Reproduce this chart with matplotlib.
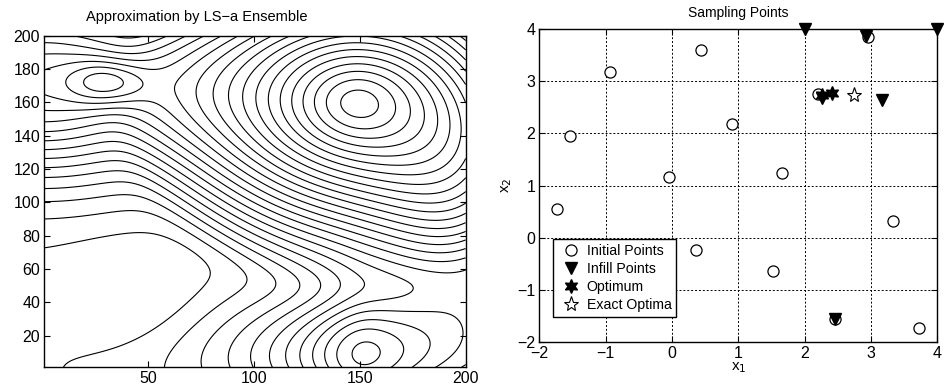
import numpy as np
import matplotlib
matplotlib.use('Agg')
import matplotlib.pyplot as plt

plt.rcParams['font.family'] = ['Liberation Sans', 'DejaVu Sans']

# left panel: LS-a ensemble surface on a 200 x 200 grid, described by a few bumps
grid_n = 200
bump_cx = [0, 31, 150, 148, 205, 45]
bump_cy = [172, 172, 8, 160, 85, 40]
bump_sx = [55, 13, 45, 100, 32, 25]
bump_sy = [40, 10, 28, 100, 60, 25]
bump_amp = [12.5, 4.0, 11.0, 25.0, 7.5, -1.2]
bump_kind = ['gauss', 'gauss', 'ridge', 'mesa', 'gauss', 'gauss']
level_start, level_step, n_levels = 0.5, 1.0, 30

# right panel: sampling points
initial_x = [0.44, -0.93, -1.53, 0.91, -0.05, 1.66, -1.74, 3.33, 0.36, 1.53, 3.72, 2.96, 2.20, 2.45]
initial_y = [3.60, 3.17, 1.95, 2.18, 1.17, 1.24, 0.55, 0.33, -0.24, -0.63, -1.73, 3.84, 2.75, -1.56]
infill_x = [2.0, 4.0, 2.93, 3.17, 2.26, 2.45]
infill_y = [4.0, 4.0, 3.86, 2.64, 2.68, -1.56]
optimum_x = [2.26, 2.41]
optimum_y = [2.74, 2.77]
exact_x = [2.74]
exact_y = [2.74]


def bump(kind, du, dv):
    if kind == 'gauss':
        return np.exp(-(du ** 2 + dv ** 2) / 2)
    if kind == 'ridge':
        # cone-like along u, gaussian across v
        return np.exp(0.3 - np.sqrt(du ** 2 + 0.09)) * np.exp(-dv ** 2 / 2)
    # mesa: a cone with a rounded top that levels off to zero outside r = 1
    r = np.sqrt(du ** 2 + dv ** 2 + 0.02) - np.sqrt(0.02)
    w = 0.05
    return np.logaddexp(0, (1 - r) / w) / np.logaddexp(0, 1 / w)


u = np.arange(1, grid_n + 1)
U, V = np.meshgrid(u, u)
Z = np.zeros(U.shape)
for cx, cy, sx, sy, a, kind in zip(bump_cx, bump_cy, bump_sx, bump_sy, bump_amp, bump_kind):
    Z += a * bump(kind, (U - cx) / sx, (V - cy) / sy)
levels = level_start + level_step * np.arange(n_levels)

fig = plt.figure(figsize=(9.49, 3.88), dpi=100)

ax1 = fig.add_axes([0.0467, 0.0534, 0.444, 0.855])
ax1.contour(U, V, Z, levels=levels, colors='k', linewidths=0.8, linestyles='solid')
ax1.set_xlim(1, 200)
ax1.set_ylim(1, 200)
ax1.set_xticks([50, 100, 150, 200])
ax1.set_yticks(range(20, 201, 20))
fig.text(197 / 949, 1 - 17 / 388, 'Approximation by LS\u2212a Ensemble',
         ha='center', va='center', fontsize=10.5)

ax2 = fig.add_axes([0.5683, 0.1178, 0.4194, 0.8075])
ax2.grid(True, color='k', linestyle=(0, (2, 2)), linewidth=0.7)
ax2.set_axisbelow(True)
ax2.plot(initial_x, initial_y, 'o', mfc='white', mec='k', ms=8, mew=0.9,
         label='Initial Points', clip_on=False)
ax2.plot(infill_x, infill_y, 'v', mfc='k', mec='k', ms=8,
         label='Infill Points', clip_on=False)
ax2.plot(optimum_x, optimum_y, marker=(6, 1, 0), ls='none', mfc='k', mec='k', ms=10,
         label='Optimum', clip_on=False)
ax2.plot(exact_x, exact_y, '*', mfc='white', mec='k', ms=11, mew=0.8,
         label='Exact Optima', clip_on=False)
ax2.set_xlim(-2, 4)
ax2.set_ylim(-2, 4)
ax2.set_xticks(range(-2, 5))
ax2.set_yticks(range(-2, 5))
ax2.set_xlabel('x$_1$', fontsize=11, labelpad=-1)
ax2.set_ylabel('x$_2$', fontsize=11, labelpad=2)
ax2.set_title('Sampling Points', fontsize=10, pad=8.5)
leg = ax2.legend(loc='lower left', bbox_to_anchor=(0.034, 0.082), fontsize=10.2,
                 frameon=True, fancybox=False, framealpha=1, edgecolor='k',
                 handlelength=2.0, handletextpad=0.1, labelspacing=0.3,
                 borderpad=0.3, borderaxespad=0)
leg.get_frame().set_linewidth(1.0)

for ax in (ax1, ax2):
    ax.tick_params(direction='in', top=True, right=True, length=4, labelsize=11.5,
                   width=0.8, pad=3)
    for s in ax.spines.values():
        s.set_linewidth(1.0)

fig.savefig('out.png', dpi=100)
